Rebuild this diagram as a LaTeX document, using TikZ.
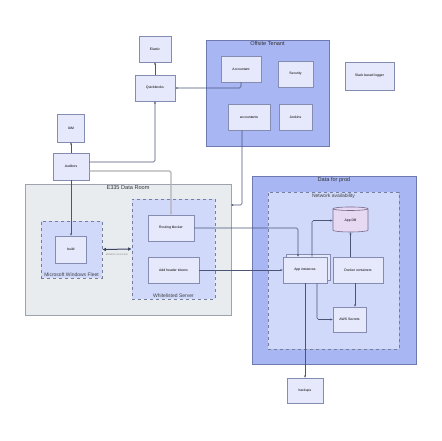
\documentclass[tikz,border=0pt]{standalone}
\usepackage{fontspec}
\setmainfont{Liberation Sans}
\usetikzlibrary{arrows.meta,shapes.geometric}
\definecolor{TenantFill}{HTML}{A8B6F4}
\definecolor{TenantLine}{HTML}{6F7BB0}
\definecolor{BoxFill}{HTML}{E6E8FB}
\definecolor{BoxLine}{HTML}{858CB2}
\definecolor{ZoneFill}{HTML}{D0D9FA}
\definecolor{ZoneLine}{HTML}{767E9E}
\definecolor{RoomFill}{HTML}{E9ECEF}
\definecolor{RoomLine}{HTML}{9EA3AD}
\definecolor{DbFill}{HTML}{E7D9F1}
\definecolor{DbLine}{HTML}{76698F}
\definecolor{LinkCol}{HTML}{4A5578}

\begin{document}
\begin{tikzpicture}[x=1pt,y=-1pt,
  sz/.style 2 args={minimum width=#1pt,minimum height=#2pt},
  box/.style={draw=BoxLine,fill=BoxFill,line width=0.6pt,inner sep=0pt,
    font=\fontsize{3.4}{4}\selectfont},
  tenant/.style={draw=TenantLine,fill=TenantFill,line width=0.7pt,inner sep=0pt},
  room/.style={draw=RoomLine,fill=RoomFill,line width=0.8pt,inner sep=0pt},
  zone/.style={draw=ZoneLine,fill=ZoneFill,dashed,line width=0.6pt,inner sep=0pt},
  title/.style={font=\fontsize{5.6}{6}\selectfont,text=black!80,inner sep=1.5pt},
  zonetitle/.style={font=\fontsize{5}{6}\selectfont,text=black!75,inner sep=1.5pt},
  link/.style={draw=LinkCol,line width=0.6pt,rounded corners=1.5pt,
    -{Stealth[length=2.4pt,width=2pt]}},
  greylink/.style={link,draw=black!30,line width=1.1pt}]
  \useasboundingbox[fill=white] (0,0) rectangle (442,440);

  % outer areas
  \node[tenant,sz={123}{106}] (offsite) at (267.5,93) {};
  \node[title,anchor=north] at (offsite.north) {Offsite Tenant};
  \node[room,sz={206}{131}] (dataroom) at (128,249.5) {};
  \node[title,anchor=north] at (dataroom.north) {E335 Data Room};
  \node[tenant,sz={164}{188}] (prod) at (334,270) {};
  \node[title,anchor=north] at (prod.north) {Data for prod};

  % dashed zones
  \node[zone,sz={61}{57}] (fleet) at (71.5,249.5) {};
  \node[zonetitle,anchor=south] at (fleet.south) {Microsoft Windows Fleet};
  \node[zone,sz={83}{100}] (wlserver) at (173.5,249) {};
  \node[zonetitle,anchor=south] at (wlserver.south) {Whitelisted Server};
  \node[zone,sz={131}{157}] (netavail) at (333.5,270.5) {};
  \node[zonetitle,anchor=north] at (netavail.north) {Network availability};

  % boxes
  \node[box,sz={32}{26}] (elastic) at (155,49) {Elastic};
  \node[box,sz={40}{26}] (quickbooks) at (155,88) {Quickbooks};
  \node[box,sz={40}{26}] (accountant) at (241,69) {Accountant};
  \node[box,sz={35}{26}] (security) at (295.5,74) {Security};
  \node[box,sz={42}{26}] (accountants) at (249,117) {accountants};
  \node[box,sz={33}{26}] (jenkins) at (295.5,117) {Jenkins};
  \node[box,sz={49}{28}] (logger) at (369.5,76) {Slack based logger};
  \node[box,sz={27}{28}] (iam) at (71,128) {IAM};
  \node[box,sz={36}{27}] (auditors) at (71,166.5) {Auditors};
  \node[box,sz={31}{27}] (build) at (71,249.5) {build};
  \node[box,sz={46}{26}] (routing) at (171,228) {Routing blocker};
  \node[box,sz={51}{26}] (header) at (173.5,270) {Add header tokens};
  \node[box,sz={44}{26}] (appback) at (308,267) {};
  \node[box,sz={44}{26}] (appinst) at (305,270) {App instances};
  \node[box,sz={50}{26}] (docker) at (358,270) {Docker containers};
  \node[box,sz={33}{25}] (aws) at (349.5,319.5) {AWS Secrets};
  \node[box,sz={36}{25}] (backups) at (305,390.5) {backups};
  \node[box,draw=DbLine,fill=DbFill,cylinder,shape border rotate=90,aspect=0.3,
    sz={35}{25}] (appdb) at (350.5,220.5) {App DB};

  % connectors
  \draw[link] (quickbooks) -- (elastic);
  \draw[link] (accountant.south) |- (quickbooks.east);
  \draw[link] (auditors) -- (iam);
  \draw[link] (auditors.south) -- (build.north);
  \draw[link] ([yshift=4.5pt]auditors.east) -| (quickbooks.south);
  \draw[greylink] ([yshift=-4.5pt]auditors.east) -| (routing.north);
  \coordinate (roomin) at (231,205);
  \draw[link] ([xshift=-7pt]accountants.south) |- (roomin);
  \draw[{Latex[length=3.5pt,width=3.5pt]}-{Latex[length=3.5pt,width=3.5pt]},
    draw=LinkCol!80!black,line width=1pt] (fleet.east) -- (wlserver.west)
    node[midway,below=0.5pt,font=\fontsize{2.6}{3}\selectfont,text=black!45]
    {allowlist connection};
  \draw[link] (routing.east) -| ([xshift=-7pt]appinst.north);
  \draw[link] (header.east) -- (appinst.west);
  \draw[link] ([xshift=7pt]appinst.north) |- (appdb.west);
  \draw[link] (appdb.south |- docker.north) -- (appdb.south);
  \draw[link] ([xshift=-3pt]docker.south) -- ([xshift=-3pt]docker.south |- aws.north);
  \draw[link] ([xshift=12pt]appinst.south) |- (aws.west);
  \draw[link] (appinst.south) -- (backups.north);
\end{tikzpicture}
\end{document}
